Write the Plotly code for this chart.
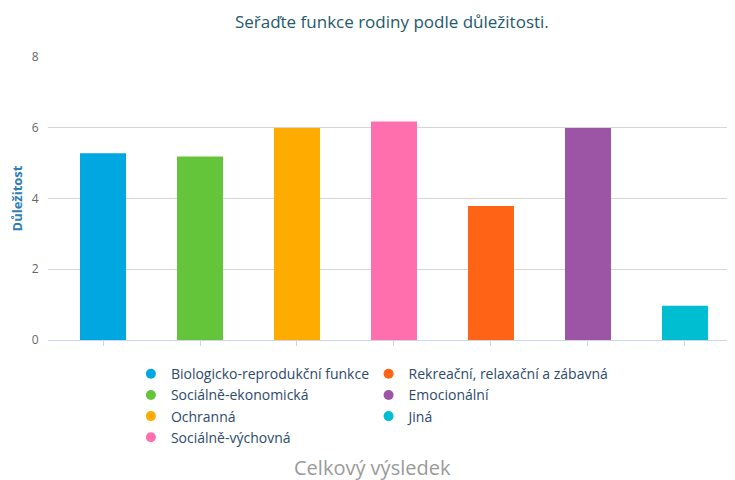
import plotly.graph_objects as go

categories = ["Biologicko-reprodukční funkce", "Sociálně-ekonomická", "Ochranná",
              "Sociálně-výchovná", "Rekreační, relaxační a zábavná", "Emocionální", "Jiná"]
values = [5.28, 5.19, 5.99, 6.18, 3.79, 5.99, 0.97]
colors = ["#00a7e1", "#64c43a", "#ffab00", "#ff6fae", "#ff6315", "#9c54a5", "#00bed1"]
y_ticks = [0, 2, 4, 6, 8]

FONT = "Open Sans"
fig = go.Figure()

for i, (name, v, c) in enumerate(zip(categories, values, colors)):
    fig.add_trace(go.Bar(x=[i], y=[v], name=name, marker=dict(color=c, line=dict(width=0)),
                         width=0.474, showlegend=False))

for i, (name, c) in enumerate(zip(categories, colors)):
    fig.add_trace(go.Scatter(x=[None], y=[None], mode="markers", name=name,
                             marker=dict(symbol="circle", size=10, color=c),
                             legend="legend" if i < 4 else "legend2",
                             legendgroup=f"g{i}"))

legend_common = dict(orientation="v", yanchor="top", xanchor="left", tracegroupgap=0,
                     font=dict(family=FONT, size=14, color="#2c4a6a"),
                     bgcolor="rgba(0,0,0,0)", itemclick=False, itemdoubleclick=False)

fig.update_layout(
    width=727, height=472,
    margin=dict(l=40, r=2, t=49, b=140),
    paper_bgcolor="white", plot_bgcolor="white",
    barmode="overlay",
    title=dict(text="Seřaďte funkce rodiny podle důležitosti.", x=0.528, xanchor="center",
               y=0.97, yanchor="middle",
               font=dict(family=FONT, size=17, color="#24596b")),
    xaxis=dict(range=[-0.567, 6.495], tickvals=list(range(7)), showticklabels=False,
               ticks="outside", ticklen=5, tickcolor="#ccd6eb", showgrid=False,
               showline=True, linecolor="#ccd6eb", linewidth=1, zeroline=False, fixedrange=True),
    yaxis=dict(range=[0, 8], tickvals=y_ticks, showgrid=True, gridcolor="#d6d6d6", gridwidth=1,
               zeroline=False, showline=False,
               ticks="outside", ticklen=6, tickcolor="rgba(0,0,0,0)",
               tickfont=dict(family=FONT, size=12, color="#666666"),
               title=dict(text="<b>Důležitost</b>", standoff=8,
                          font=dict(family=FONT, size=13, color="#2f7db5")), fixedrange=True),
    legend=dict(x=0.121, y=-0.064, **legend_common),
    legend2=dict(x=0.468, y=-0.064, **legend_common),
    annotations=[dict(text="Celkový výsledek", xref="paper", yref="paper",
                      x=0.474, y=-0.452, xanchor="center", yanchor="middle", showarrow=False,
                      font=dict(family=FONT, size=20, color="#9a9a9a"))],
)

fig.write_html("out.html")
